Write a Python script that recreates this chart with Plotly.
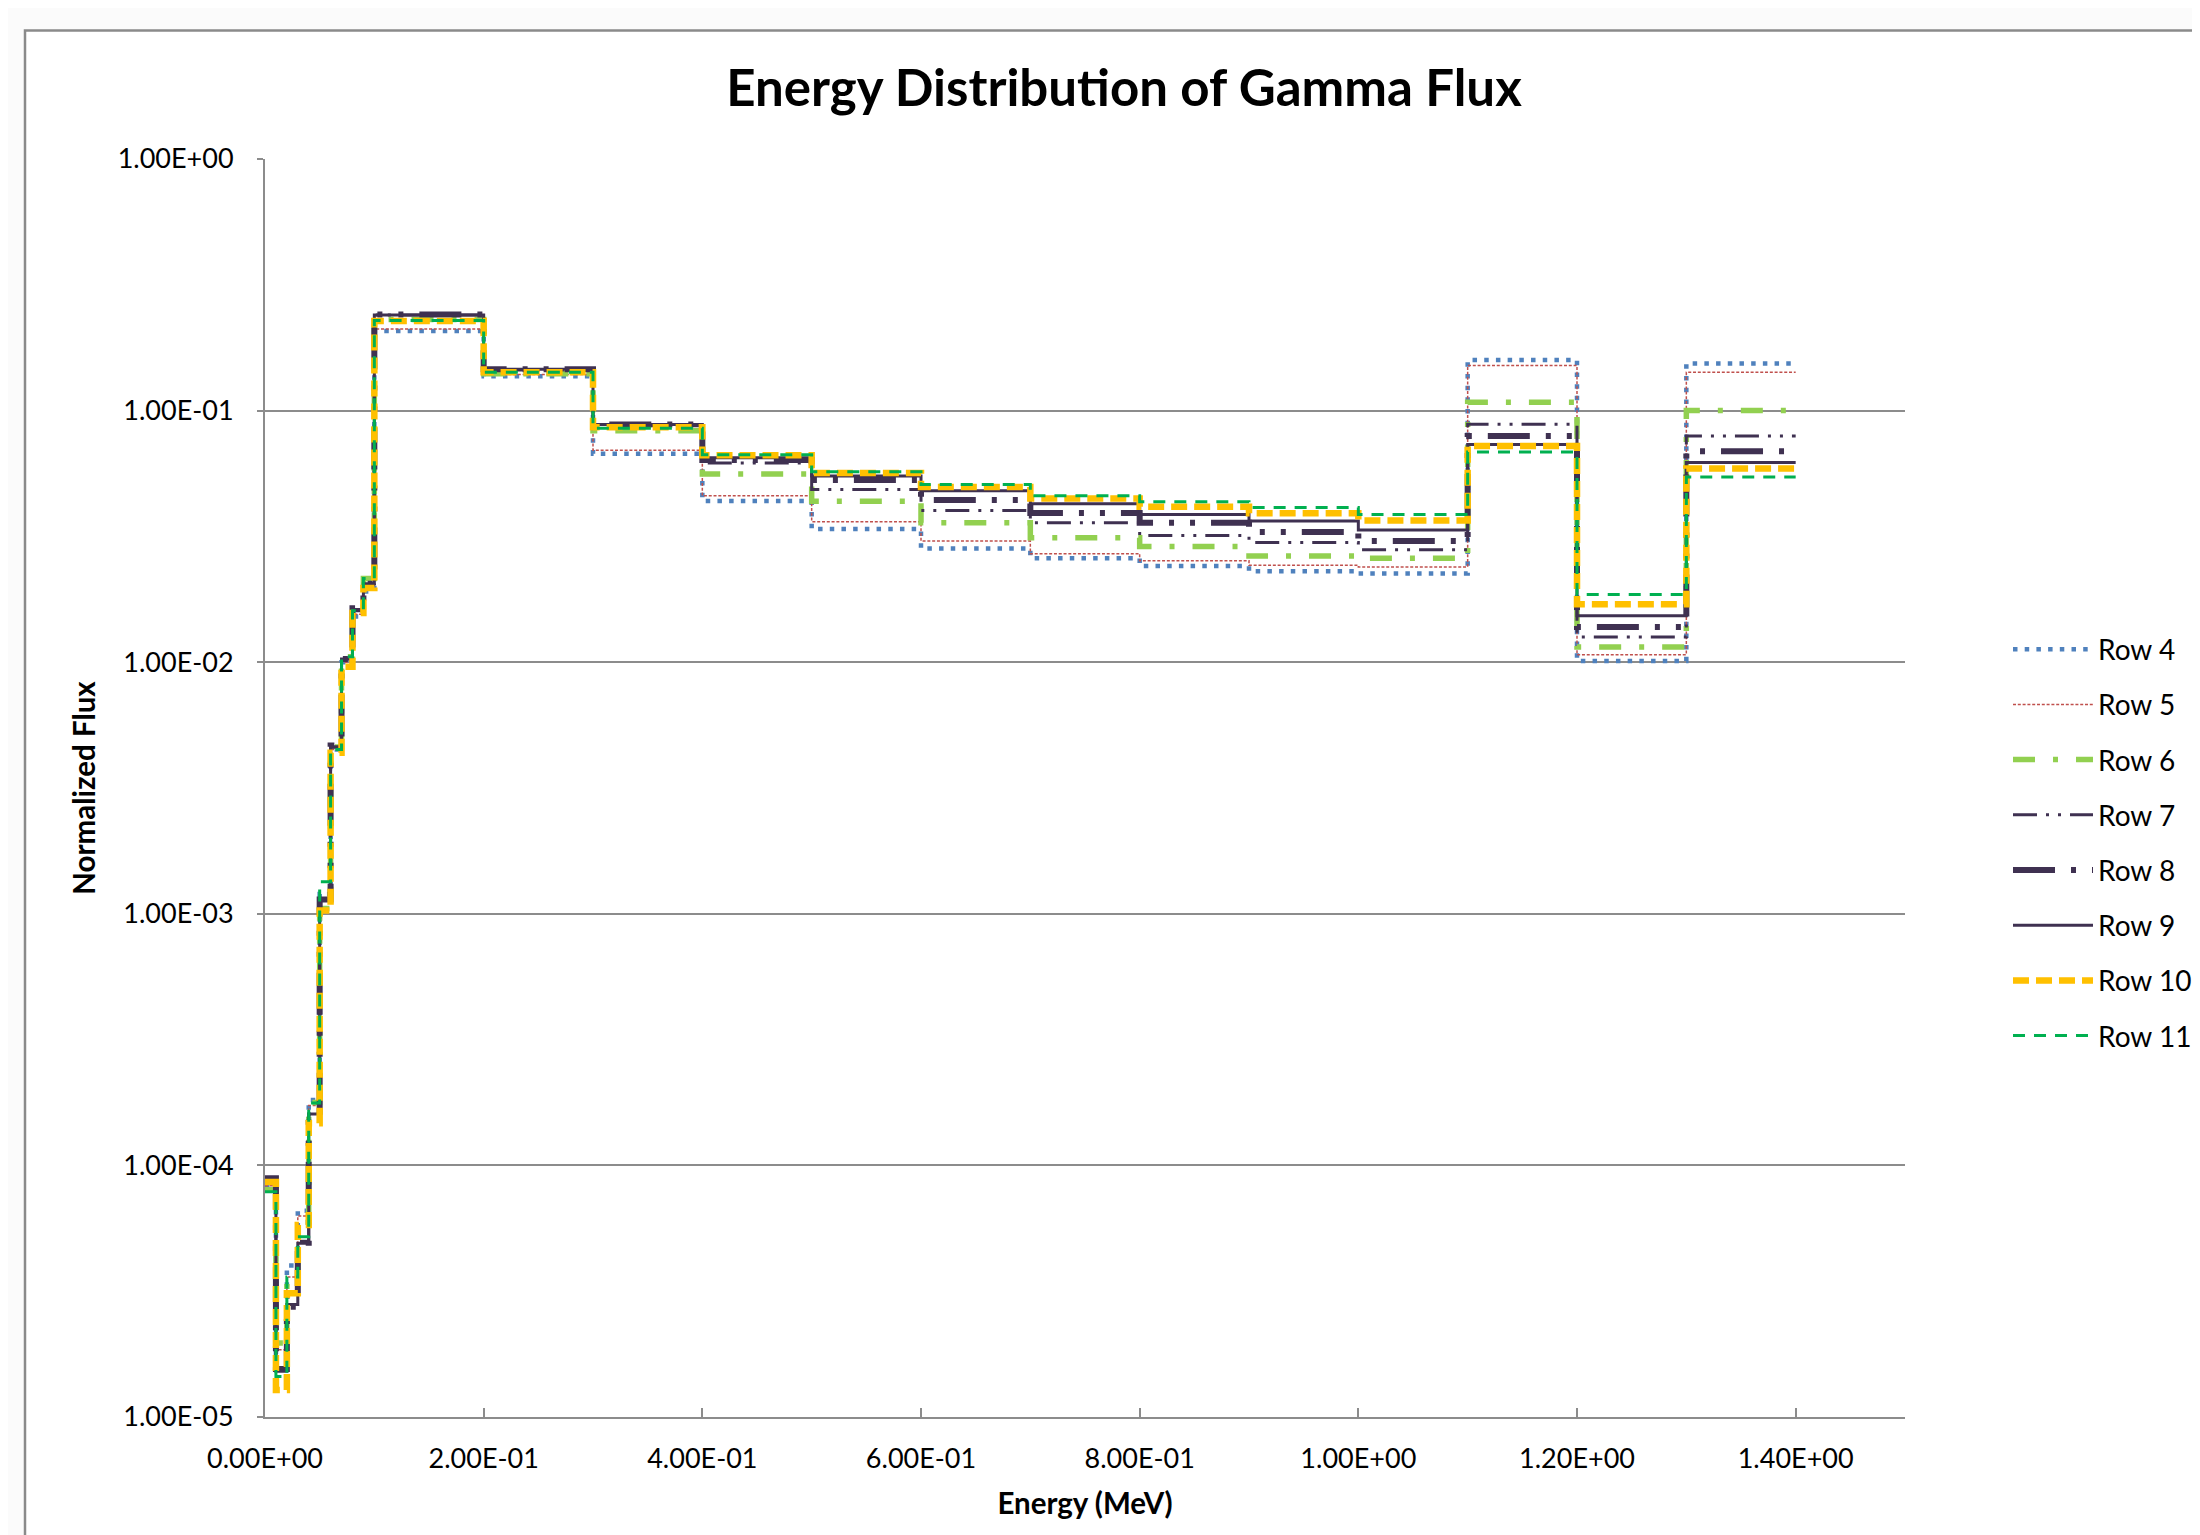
import plotly.graph_objects as go

# ---------------- data ----------------
bin_edges = [0.0, 0.01, 0.02, 0.03, 0.04, 0.05, 0.06, 0.07, 0.08, 0.09, 0.10,
             0.2, 0.3, 0.4, 0.5, 0.6, 0.7, 0.8, 0.9, 1.0, 1.1, 1.2, 1.3, 1.4]

series_names = ["Row 4", "Row 5", "Row 6", "Row 7", "Row 8", "Row 9", "Row 10", "Row 11"]

row4 = [8.3e-5, 1.78e-5, 4.0e-5, 6.6e-5, 1.82e-4, 1.20e-3, 4.5e-3, 1.00e-2, 1.52e-2, 1.91e-2,
        0.207, 0.137, 0.0673, 0.0437, 0.0338, 0.0283, 0.0259, 0.0241, 0.0230, 0.0225, 0.159, 0.0101, 0.154]
row5 = [8.3e-5, 1.85e-5, 3.6e-5, 6.3e-5, 1.73e-4, 1.15e-3, 4.5e-3, 1.00e-2, 1.55e-2, 1.95e-2,
        0.211, 0.139, 0.0696, 0.0459, 0.0362, 0.0303, 0.0270, 0.0253, 0.0243, 0.0239, 0.151, 0.0107, 0.142]
row6 = [8.0e-5, 1.97e-5, 3.4e-5, 5.5e-5, 1.78e-4, 1.05e-3, 4.6e-3, 1.05e-2, 1.60e-2, 2.15e-2,
        0.230, 0.140, 0.0831, 0.0560, 0.0436, 0.0358, 0.0312, 0.0288, 0.0264, 0.0259, 0.108, 0.0115, 0.100]
row7 = [8.5e-5, 1.60e-5, 3.0e-5, 5.0e-5, 1.60e-4, 1.15e-3, 4.6e-3, 1.03e-2, 1.60e-2, 2.05e-2,
        0.240, 0.145, 0.0870, 0.0619, 0.0486, 0.0401, 0.0358, 0.0319, 0.0299, 0.0280, 0.0883, 0.0126, 0.0792]
row8 = [8.9e-5, 1.55e-5, 2.74e-5, 4.75e-5, 1.58e-4, 1.14e-3, 4.67e-3, 1.03e-2, 1.64e-2, 2.05e-2,
        0.241, 0.146, 0.0880, 0.0636, 0.0530, 0.0441, 0.0392, 0.0358, 0.0329, 0.0303, 0.0792, 0.0138, 0.0690]
row9 = [8.8e-5, 1.52e-5, 2.8e-5, 4.9e-5, 1.60e-4, 1.15e-3, 4.6e-3, 1.03e-2, 1.62e-2, 2.05e-2,
        0.240, 0.146, 0.0880, 0.0650, 0.0550, 0.0480, 0.0426, 0.0386, 0.0364, 0.0335, 0.0733, 0.0153, 0.0622]
row10 = [8.6e-5, 1.28e-5, 3.1e-5, 5.8e-5, 1.47e-4, 1.03e-3, 4.37e-3, 9.6e-3, 1.57e-2, 1.97e-2,
         0.227, 0.142, 0.0859, 0.0664, 0.0565, 0.0497, 0.0447, 0.0415, 0.0391, 0.0366, 0.0723, 0.0170, 0.0589]
row11 = [7.85e-5, 1.45e-5, 3.6e-5, 5.2e-5, 1.77e-4, 1.34e-3, 4.5e-3, 1.05e-2, 1.60e-2, 2.15e-2,
         0.228, 0.142, 0.0851, 0.0667, 0.0571, 0.0509, 0.0459, 0.0434, 0.0412, 0.0386, 0.0684, 0.0186, 0.0545]

x_tick_vals = [0.0, 0.2, 0.4, 0.6, 0.8, 1.0, 1.2, 1.4]
x_tick_text = ["0.00E+00", "2.00E-01", "4.00E-01", "6.00E-01", "8.00E-01", "1.00E+00", "1.20E+00", "1.40E+00"]
y_tick_vals = [1e-5, 1e-4, 1e-3, 1e-2, 1e-1, 1e0]
y_tick_text = ["1.00E-05", "1.00E-04", "1.00E-03", "1.00E-02", "1.00E-01", "1.00E+00"]

title_text = "Energy Distribution of Gamma Flux"
x_title = "Energy (MeV)"
y_title = "Normalized Flux"

# ---------------- styles ----------------
styles = [
    dict(color="#4F81BD", width=4.5, dash="4.5px,7.2px"),
    dict(color="#C0504D", width=1.5, dash="3px,1.8px"),
    dict(color="#92D050", width=5.5, dash="22px,18px,5px,18px"),
    dict(color="#3F3151", width=3, dash="24px,9px,3px,9px,3px,9px"),
    dict(color="#3F3151", width=6, dash="42px,16px,5px,16px,5px,16px"),
    dict(color="#3F3151", width=3, dash="solid"),
    dict(color="#FFC000", width=6.5, dash="16px,7px"),
    dict(color="#00B050", width=3, dash="12px,9px"),
]

all_rows = [row4, row5, row6, row7, row8, row9, row10, row11]

FONT = "Lato, 'Open Sans', sans-serif"
GRID = "#8c8c8c"

fig = go.Figure()
for name, vals, st in zip(series_names, all_rows, styles):
    fig.add_trace(go.Scatter(
        x=bin_edges,
        y=vals + [vals[-1]],
        mode="lines",
        line=dict(shape="hv", **st),
        name=name,
        legendgroup=name,
    ))

# page offset (browser body margin)
OFF = 8
W, H = 2200 - OFF, 1535 - OFF
PLOT_X0, PLOT_X1 = 265, 1905          # page pixels
PLOT_Y0, PLOT_Y1 = 158.5, 1417        # page pixels
L, T = PLOT_X0 - OFF, PLOT_Y0 - OFF
pw, ph = PLOT_X1 - PLOT_X0, PLOT_Y1 - PLOT_Y0
R, B = W - L - pw, H - T - ph


def px_to_paper_x(px):
    return (px - PLOT_X0) / pw


def px_to_paper_y(py):
    return (PLOT_Y1 - py) / ph


fig.update_layout(
    width=W, height=H,
    margin=dict(l=L, r=R, t=T, b=B),
    paper_bgcolor="#fbfbfb",
    plot_bgcolor="rgba(0,0,0,0)",
    font=dict(family=FONT, size=27, color="#000000"),
    title=dict(text=title_text, x=(1124 - OFF) / W, xref="container", xanchor="center",
               y=1 - (88 - OFF) / H, yref="container", yanchor="middle",
               font=dict(family=FONT, size=51, color="#000000", weight="bold")),
    showlegend=True,
    legend=dict(
        xref="container", yref="container",
        x=(2008 - OFF) / W, xanchor="left",
        y=1 - (842.5 - OFF) / H, yanchor="middle",
        font=dict(family=FONT, size=28, color="#000000"),
        itemwidth=80,
        tracegroupgap=15.8,
        traceorder="grouped",
        bgcolor="rgba(0,0,0,0)",
    ),
    shapes=[dict(
        type="rect", xref="paper", yref="paper", layer="below",
        x0=px_to_paper_x(25), x1=px_to_paper_x(2260),
        y0=px_to_paper_y(1600), y1=px_to_paper_y(30),
        fillcolor="#ffffff", line=dict(color="#8a8a8a", width=2.5),
    )],
)

fig.update_xaxes(
    range=[0, 1.5],
    tickvals=x_tick_vals, ticktext=x_tick_text,
    ticks="inside", ticklen=9, tickwidth=2, tickcolor=GRID,
    showline=True, linecolor=GRID, linewidth=2,
    showgrid=False, zeroline=False,
    ticklabelstandoff=17,
    tickfont=dict(family=FONT, size=27, color="#000000"),
    title=dict(text=x_title, standoff=20,
               font=dict(family=FONT, size=29.5, color="#000000", weight="bold")),
)
fig.update_yaxes(
    type="log", range=[-5, 0],
    tickvals=y_tick_vals, ticktext=y_tick_text,
    ticks="outside", ticklen=6, tickwidth=2, tickcolor=GRID,
    showline=True, linecolor=GRID, linewidth=2,
    showgrid=True, gridcolor=GRID, gridwidth=2,
    zeroline=False,
    ticklabelstandoff=18,
    tickfont=dict(family=FONT, size=27, color="#000000"),
    title=dict(text=y_title, standoff=13,
               font=dict(family=FONT, size=29.5, color="#000000", weight="bold")),
)

fig.write_html("out.html")
